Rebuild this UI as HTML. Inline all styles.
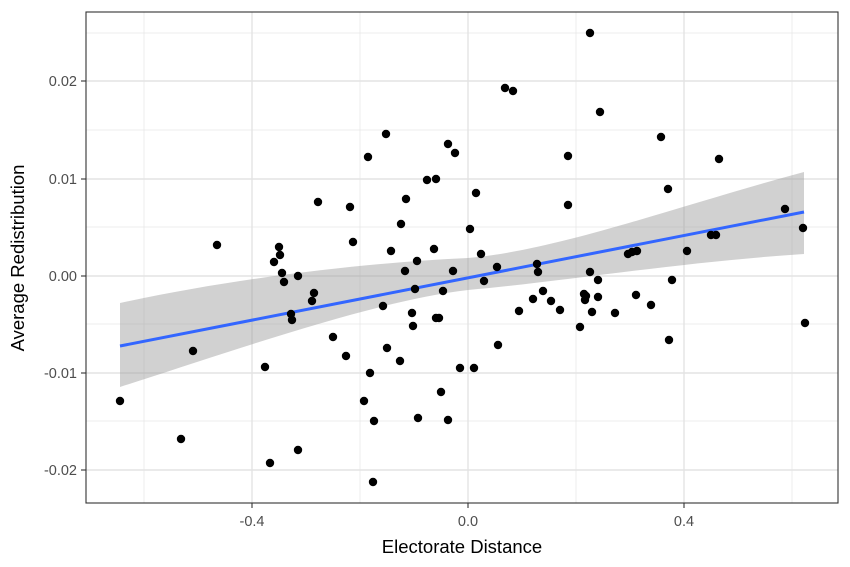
<!DOCTYPE html>
<html><head><style>body{margin:0;background:#fff}svg{display:block}</style></head><body>
<svg width="850" height="567" xmlns="http://www.w3.org/2000/svg" font-family="Liberation Sans, sans-serif">
<rect width="850" height="567" fill="#fff"/>
<g stroke="#e8e8e8" stroke-width="0.8">
<line x1="144" y1="12" x2="144" y2="503"/><line x1="360" y1="12" x2="360" y2="503"/><line x1="576" y1="12" x2="576" y2="503"/><line x1="792" y1="12" x2="792" y2="503"/>
<line x1="86" y1="33" x2="838" y2="33"/><line x1="86" y1="130" x2="838" y2="130"/><line x1="86" y1="227" x2="838" y2="227"/><line x1="86" y1="324" x2="838" y2="324"/><line x1="86" y1="421" x2="838" y2="421"/>
</g>
<g stroke="#e3e3e3" stroke-width="1.4">
<line x1="252" y1="12" x2="252" y2="503"/><line x1="468" y1="12" x2="468" y2="503"/><line x1="684" y1="12" x2="684" y2="503"/>
<line x1="86" y1="81" x2="838" y2="81"/><line x1="86" y1="179" x2="838" y2="179"/><line x1="86" y1="276" x2="838" y2="276"/><line x1="86" y1="373" x2="838" y2="373"/><line x1="86" y1="470" x2="838" y2="470"/>
</g>
<path d="M120,303 C250,275 380,262 468,258 C560,250 680,205 804,172 L804,254 C680,262 560,282 468,290 C380,300 250,345 120,387 Z" fill="#999" fill-opacity="0.45"/>
<line x1="120" y1="346" x2="804" y2="212" stroke="#3366FF" stroke-width="3"/>
<g fill="#000">
<circle cx="120" cy="401" r="4.2"/><circle cx="181" cy="439" r="4.2"/><circle cx="193" cy="351" r="4.2"/><circle cx="217" cy="245" r="4.2"/><circle cx="265" cy="367" r="4.2"/><circle cx="270" cy="463" r="4.2"/><circle cx="274" cy="262" r="4.2"/><circle cx="279" cy="247" r="4.2"/><circle cx="280" cy="255" r="4.2"/><circle cx="282" cy="273" r="4.2"/><circle cx="284" cy="282" r="4.2"/><circle cx="291" cy="314" r="4.2"/><circle cx="292" cy="320" r="4.2"/><circle cx="298" cy="276" r="4.2"/><circle cx="298" cy="450" r="4.2"/><circle cx="312" cy="301" r="4.2"/><circle cx="314" cy="293" r="4.2"/><circle cx="318" cy="202" r="4.2"/><circle cx="333" cy="337" r="4.2"/><circle cx="346" cy="356" r="4.2"/><circle cx="350" cy="207" r="4.2"/><circle cx="353" cy="242" r="4.2"/><circle cx="364" cy="401" r="4.2"/><circle cx="368" cy="157" r="4.2"/><circle cx="370" cy="373" r="4.2"/><circle cx="373" cy="482" r="4.2"/><circle cx="374" cy="421" r="4.2"/><circle cx="383" cy="306" r="4.2"/><circle cx="386" cy="134" r="4.2"/><circle cx="387" cy="348" r="4.2"/><circle cx="391" cy="251" r="4.2"/><circle cx="400" cy="361" r="4.2"/><circle cx="401" cy="224" r="4.2"/><circle cx="405" cy="271" r="4.2"/><circle cx="406" cy="199" r="4.2"/><circle cx="412" cy="313" r="4.2"/><circle cx="413" cy="326" r="4.2"/><circle cx="415" cy="289" r="4.2"/><circle cx="417" cy="261" r="4.2"/><circle cx="418" cy="418" r="4.2"/><circle cx="427" cy="180" r="4.2"/><circle cx="434" cy="249" r="4.2"/><circle cx="436" cy="179" r="4.2"/><circle cx="436" cy="318" r="4.2"/><circle cx="439" cy="318" r="4.2"/><circle cx="441" cy="392" r="4.2"/><circle cx="443" cy="291" r="4.2"/><circle cx="448" cy="420" r="4.2"/><circle cx="448" cy="144" r="4.2"/><circle cx="453" cy="271" r="4.2"/><circle cx="455" cy="153" r="4.2"/><circle cx="460" cy="368" r="4.2"/><circle cx="470" cy="229" r="4.2"/><circle cx="474" cy="368" r="4.2"/><circle cx="476" cy="193" r="4.2"/><circle cx="481" cy="254" r="4.2"/><circle cx="484" cy="281" r="4.2"/><circle cx="497" cy="267" r="4.2"/><circle cx="498" cy="345" r="4.2"/><circle cx="505" cy="88" r="4.2"/><circle cx="513" cy="91" r="4.2"/><circle cx="519" cy="311" r="4.2"/><circle cx="533" cy="299" r="4.2"/><circle cx="537" cy="264" r="4.2"/><circle cx="538" cy="272" r="4.2"/><circle cx="543" cy="291" r="4.2"/><circle cx="551" cy="301" r="4.2"/><circle cx="560" cy="310" r="4.2"/><circle cx="568" cy="156" r="4.2"/><circle cx="568" cy="205" r="4.2"/><circle cx="580" cy="327" r="4.2"/><circle cx="584" cy="294" r="4.2"/><circle cx="585" cy="300" r="4.2"/><circle cx="586" cy="296" r="4.2"/><circle cx="590" cy="33" r="4.2"/><circle cx="590" cy="272" r="4.2"/><circle cx="592" cy="312" r="4.2"/><circle cx="598" cy="280" r="4.2"/><circle cx="598" cy="297" r="4.2"/><circle cx="600" cy="112" r="4.2"/><circle cx="615" cy="313" r="4.2"/><circle cx="628" cy="254" r="4.2"/><circle cx="632" cy="252" r="4.2"/><circle cx="636" cy="295" r="4.2"/><circle cx="637" cy="251" r="4.2"/><circle cx="651" cy="305" r="4.2"/><circle cx="661" cy="137" r="4.2"/><circle cx="668" cy="189" r="4.2"/><circle cx="669" cy="340" r="4.2"/><circle cx="672" cy="280" r="4.2"/><circle cx="687" cy="251" r="4.2"/><circle cx="711" cy="235" r="4.2"/><circle cx="716" cy="235" r="4.2"/><circle cx="719" cy="159" r="4.2"/><circle cx="785" cy="209" r="4.2"/><circle cx="803" cy="228" r="4.2"/><circle cx="805" cy="323" r="4.2"/>
</g>
<rect x="86" y="12" width="752" height="491" fill="none" stroke="#333" stroke-width="1.1"/>
<g stroke="#333" stroke-width="1.1">
<line x1="252" y1="503" x2="252" y2="508"/><line x1="468" y1="503" x2="468" y2="508"/><line x1="684" y1="503" x2="684" y2="508"/>
<line x1="81" y1="81" x2="86" y2="81"/><line x1="81" y1="179" x2="86" y2="179"/><line x1="81" y1="276" x2="86" y2="276"/><line x1="81" y1="373" x2="86" y2="373"/><line x1="81" y1="470" x2="86" y2="470"/>
</g>
<g fill="#4d4d4d" font-size="14.5">
<text x="252" y="526" text-anchor="middle">-0.4</text><text x="468" y="526" text-anchor="middle">0.0</text><text x="684" y="526" text-anchor="middle">0.4</text>
<g text-anchor="end"><text x="77" y="86">0.02</text><text x="77" y="184">0.01</text><text x="77" y="281">0.00</text><text x="77" y="378">-0.01</text><text x="77" y="475">-0.02</text></g>
</g>
<text x="462" y="553" text-anchor="middle" font-size="18.5" fill="#000">Electorate Distance</text>
<text transform="translate(24,258) rotate(-90)" text-anchor="middle" font-size="18.5" fill="#000">Average Redistribution</text>
</svg>
</body></html>
